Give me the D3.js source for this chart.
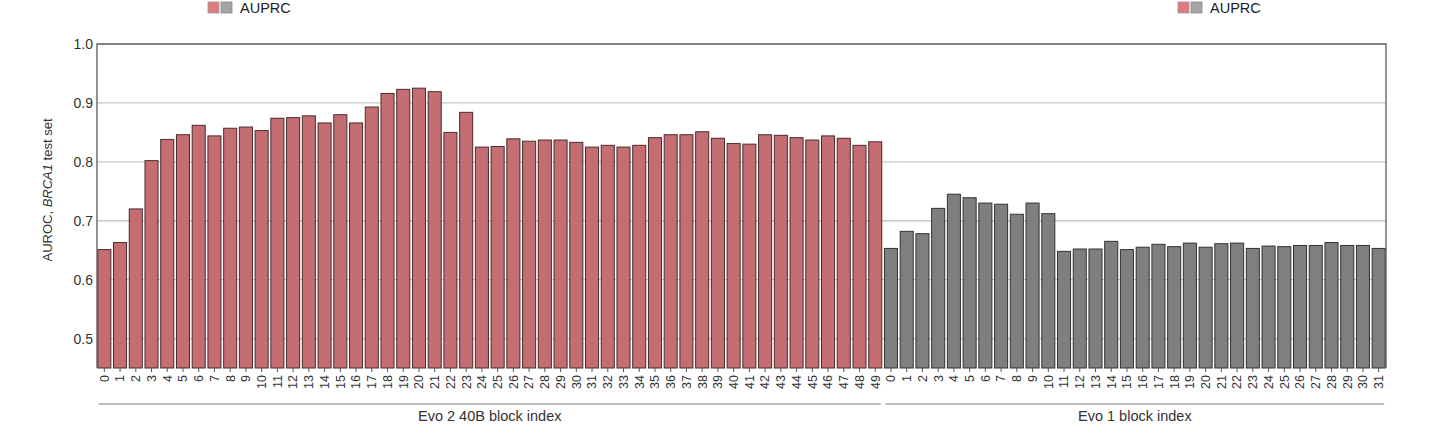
<!DOCTYPE html>
<html><head><meta charset="utf-8">
<script src="https://cdn.jsdelivr.net/npm/d3@7"></script>
<style>
body{margin:0;background:#fff;}
text{font-family:"Liberation Sans",Arial,Helvetica,sans-serif;}
</style></head>
<body><svg id="chart" width="1456" height="437"></svg>
<script>
const evo2Values = [0.651,0.663,0.720,0.802,0.838,0.846,0.862,0.844,0.857,0.859,0.853,0.874,0.875,0.878,0.866,0.880,0.866,0.893,0.916,0.923,0.925,0.919,0.850,0.884,0.825,0.826,0.839,0.835,0.837,0.837,0.833,0.825,0.828,0.825,0.828,0.841,0.846,0.846,0.851,0.840,0.831,0.830,0.846,0.845,0.841,0.837,0.844,0.840,0.828,0.834];
const evo1Values = [0.653,0.682,0.678,0.721,0.745,0.739,0.730,0.728,0.711,0.730,0.712,0.648,0.652,0.652,0.665,0.651,0.655,0.660,0.656,0.662,0.655,0.661,0.662,0.653,0.657,0.656,0.658,0.658,0.663,0.658,0.658,0.653];
const groupLabels = ["Evo 2 40B block index","Evo 1 block index"];
const yTicks = [0.5,0.6,0.7,0.8,0.9,1.0];
const legendLabel = "AUPRC";
const colors = {evo2:"#c2686e", evo1:"#7b7b7b"};
const strokes = {evo2:"#4b2b2d", evo1:"#333333"};

const data = [
  ...evo2Values.map((v,i)=>({key:"evo2-"+i, idx:i, group:"evo2", value:v})),
  ...evo1Values.map((v,i)=>({key:"evo1-"+i, idx:i, group:"evo1", value:v}))
];

const svg = d3.select("#chart");
const m = {left:97, right:70, top:44, bottom:69};
const W = 1456, H = 437;
const x = d3.scaleBand().domain(data.map(d=>d.key)).range([m.left, W-m.right]).paddingInner(0.17).paddingOuter(0.05);
const y = d3.scaleLinear().domain([0.45,1.0]).range([H-m.bottom, m.top]);

// gridlines
svg.append("g").selectAll("line").data(yTicks.filter(t=>t<1)).join("line")
  .attr("x1",m.left).attr("x2",W-m.right)
  .attr("y1",d=>y(d)).attr("y2",d=>y(d))
  .attr("stroke","#c8c8c8").attr("stroke-width",1.3);

// bars
svg.append("g").selectAll("rect").data(data).join("rect")
  .attr("x",d=>x(d.key)).attr("width",x.bandwidth())
  .attr("y",d=>y(d.value)).attr("height",d=>y(0.45)-y(d.value))
  .attr("fill",d=>colors[d.group]).attr("fill-opacity",0.97)
  .attr("stroke",d=>strokes[d.group]).attr("stroke-width",1);

// frame
svg.append("path")
  .attr("d",`M${m.left},${H-m.bottom}V${m.top}H${W-m.right}V${H-m.bottom}`)
  .attr("fill","none").attr("stroke","#5a5a5a").attr("stroke-width",1.3);

// y axis labels
const yAxis = d3.axisLeft(y).tickValues(yTicks).tickFormat(d3.format(".1f")).tickSize(0).tickPadding(4);
const yg = svg.append("g").attr("transform",`translate(${m.left},0)`).call(yAxis);
yg.select(".domain").remove();
yg.selectAll("text").attr("font-size",14).attr("fill","#333");

// y title
svg.append("text").attr("transform",`translate(52,${(m.top+H-m.bottom)/2-16}) rotate(-90)`)
  .attr("text-anchor","middle").attr("font-size",13).attr("fill","#333")
  .call(t=>{t.append("tspan").text("AUROC, ");t.append("tspan").attr("font-style","italic").text("BRCA1");t.append("tspan").text(" test set");});

// x axis
const xAxis = d3.axisBottom(x).tickFormat(k=>data.find(d=>d.key===k).idx).tickSize(4).tickPadding(3);
const xg = svg.append("g").attr("transform",`translate(0,${H-m.bottom})`).call(xAxis);
xg.select(".domain").remove();
xg.selectAll(".tick line").attr("stroke","#555");
xg.selectAll("text").attr("font-size",12.5).attr("fill","#333")
  .attr("transform","rotate(-90)").attr("text-anchor","end")
  .attr("x",-7).attr("y",0).attr("dy","0.35em");

// group brackets
const groups = [
  {g:"evo2", label:groupLabels[0], n:evo2Values.length},
  {g:"evo1", label:groupLabels[1], n:evo1Values.length}
];
groups.forEach(gr=>{
  const x0 = x(gr.g+"-0") - 1, x1 = x(gr.g+"-"+(gr.n-1)) + x.bandwidth() + 1;
  svg.append("line").attr("x1",x0+2).attr("x2",x1-2).attr("y1",404).attr("y2",404)
    .attr("stroke","#bbbbbb").attr("stroke-width",2);
  svg.append("text").attr("x",(x0+x1)/2).attr("y",420.5).attr("text-anchor","middle")
    .attr("font-size",14.5).attr("fill","#333").text(gr.label);
});

// legends
function legend(lx){
  const g = svg.append("g").attr("transform",`translate(${lx},2)`);
  g.append("rect").attr("x",0).attr("y",0).attr("width",11).attr("height",11).attr("fill","#e07b80").attr("stroke","#999").attr("stroke-width",0.8);
  g.append("rect").attr("x",13).attr("y",0).attr("width",11).attr("height",11).attr("fill","#a5a5a5").attr("stroke","#888").attr("stroke-width",0.8);
  g.append("text").attr("x",32).attr("y",11).attr("font-size",14.5).attr("fill","#222").text(legendLabel);
}
legend(208);
legend(1178);
</script></body></html>
